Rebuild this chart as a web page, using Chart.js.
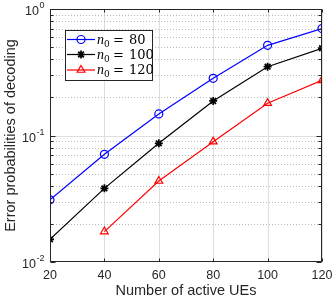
<!DOCTYPE html>
<html>
<head>
<meta charset="utf-8">
<script src="https://cdn.jsdelivr.net/npm/chart.js@4.4.0/dist/chart.umd.min.js"></script>
<style>
  html, body { margin: 0; padding: 0; background: #fff; }
  canvas { display: block; }
</style>
</head>
<body>
<canvas id="errChart" width="336" height="304"></canvas>
<script>
// 데이터
const activeUEs = [20, 40, 60, 80, 100, 120];
const errN80 = [0.031, 0.071, 0.148, 0.283, 0.516, 0.70];
const errN100 = [0.0151, 0.0382, 0.0867, 0.1875, 0.35, 0.489];
const errN120 = [null, 0.0174, 0.0437, 0.0894, 0.18, 0.273];
const seriesLabels = ['80', '100', '120'];
const xTicks = [20, 40, 60, 80, 100, 120];
const yDecades = [-2, -1, 0];

const AXIS = '#262626';
const SANS = '"Liberation Sans", Arial, Helvetica, sans-serif';
const SERIF = '"DejaVu Serif", "Liberation Serif", serif';
const TIMES = '"Liberation Serif", serif';

function toPoints(ys) {
    return activeUEs.map((x, i) => ({ x: x, y: ys[i] })).filter(p => p.y !== null);
}

const seriesStyles = [
    { color: '#0000ff', pointStyle: 'circle', radius: 4, fill: 'rgba(0,0,0,0)', bw: 1.2 },
    { color: '#000000', pointStyle: 'star', radius: 4, fill: '#000000', bw: 1.7 },
    { color: '#ff0000', pointStyle: 'triangle', radius: 4.5, fill: 'rgba(0,0,0,0)', bw: 1.2 }
];
const seriesData = [errN80, errN100, errN120];

// 격자, 눈금, 범례 그리기
const matlabAxes = {
    id: 'matlabAxes',
    beforeDatasetsDraw(chart) {
        const ctx = chart.ctx;
        const a = chart.chartArea;
        const xs = chart.scales.x, ys = chart.scales.y;
        ctx.save();
        ctx.lineWidth = 1;
        // x 주 격자
        ctx.strokeStyle = '#dedede';
        xTicks.forEach(v => {
            const px = Math.round(xs.getPixelForValue(v)) + 0.5;
            ctx.beginPath(); ctx.moveTo(px, a.top); ctx.lineTo(px, a.bottom); ctx.stroke();
        });
        // y 보조 격자 (점선)
        ctx.strokeStyle = '#b8b8b8';
        ctx.setLineDash([1, 2]);
        for (let d = -2; d < 0; d++) {
            for (let k = 2; k <= 9; k++) {
                const py = Math.round(ys.getPixelForValue(k * Math.pow(10, d))) + 0.5;
                ctx.beginPath(); ctx.moveTo(a.left, py); ctx.lineTo(a.right, py); ctx.stroke();
            }
        }
        ctx.setLineDash([]);
        // y 주 격자
        ctx.strokeStyle = '#dedede';
        const py1 = Math.round(ys.getPixelForValue(0.1)) + 0.5;
        ctx.beginPath(); ctx.moveTo(a.left, py1); ctx.lineTo(a.right, py1); ctx.stroke();
        ctx.restore();
    },
    afterDatasetsDraw(chart) {
        const ctx = chart.ctx;
        const a = chart.chartArea;
        const xs = chart.scales.x, ys = chart.scales.y;
        ctx.save();
        // 테두리
        ctx.strokeStyle = AXIS;
        ctx.lineWidth = 1;
        const L = Math.round(a.left) + 0.5, R = Math.round(a.right) - 0.5;
        const T = Math.round(a.top) + 0.5, B = Math.round(a.bottom) - 0.5;
        ctx.strokeRect(L, T, R - L, B - T);
        // 안쪽 눈금
        ctx.beginPath();
        xTicks.forEach(v => {
            const px = Math.round(xs.getPixelForValue(v)) + 0.5;
            ctx.moveTo(px, B); ctx.lineTo(px, B - 3);
            ctx.moveTo(px, T); ctx.lineTo(px, T + 3);
        });
        for (let d = -2; d < 0; d++) {
            for (let k = 1; k <= 9; k++) {
                const py = Math.round(ys.getPixelForValue(k * Math.pow(10, d))) + 0.5;
                const len = k === 1 ? 5 : 3;
                ctx.moveTo(L, py); ctx.lineTo(L + len, py);
                ctx.moveTo(R, py); ctx.lineTo(R - len, py);
            }
        }
        ctx.stroke();

        // 범례
        const lx = 65, ly = 30, lw = 87, lh = 50;
        ctx.fillStyle = '#fff';
        ctx.fillRect(lx, ly, lw, lh);
        ctx.strokeStyle = AXIS;
        ctx.strokeRect(lx + 0.5, ly + 0.5, lw, lh);
        const rowY = [39.5, 54.5, 70];
        seriesStyles.forEach((s, i) => {
            const y = rowY[i];
            ctx.strokeStyle = s.color;
            ctx.lineWidth = 1.2;
            ctx.beginPath(); ctx.moveTo(67, y); ctx.lineTo(95, y); ctx.stroke();
            ctx.fillStyle = s.fill;
            ctx.lineWidth = s.bw;
            Chart.helpers.drawPoint(ctx, { pointStyle: s.pointStyle, radius: s.radius, rotation: 0, borderWidth: s.bw }, 81, y);
            ctx.fillStyle = '#000';
            ctx.textBaseline = 'alphabetic';
            ctx.textAlign = 'left';
            ctx.font = 'italic 14px ' + TIMES;
            ctx.fillText('n', 97, y + 4);
            ctx.font = '9px ' + SERIF;
            ctx.fillText('0', 104, y + 7);
            ctx.font = '13px ' + SERIF;
            ctx.fillText('=', 113, y + 4);
            ctx.fillText(seriesLabels[i], 129, y + 4);
        });
        ctx.restore();
    },
    afterDraw(chart) {
        const ctx = chart.ctx;
        const a = chart.chartArea;
        const xs = chart.scales.x, ys = chart.scales.y;
        ctx.save();
        ctx.fillStyle = AXIS;
        // x 눈금 라벨
        ctx.font = '12.5px ' + SANS;
        ctx.textAlign = 'center';
        ctx.textBaseline = 'middle';
        xTicks.forEach(v => ctx.fillText(String(v), xs.getPixelForValue(v), a.bottom + 14));
        // y 눈금 라벨 (10^n)
        yDecades.forEach(d => {
            const py = ys.getPixelForValue(Math.pow(10, d));
            const sup = String(d);
            ctx.font = '9px ' + SANS;
            const supW = ctx.measureText(sup).width;
            ctx.font = '12.5px ' + SANS;
            const baseW = ctx.measureText('10').width;
            const x0 = 44 - supW - baseW;
            ctx.textAlign = 'left';
            ctx.fillText('10', x0, py + 3);
            ctx.font = '9px ' + SANS;
            ctx.fillText(sup, x0 + baseW + 0.5, py - 3);
        });
        // 축 제목
        ctx.font = '14.5px ' + SANS;
        ctx.textAlign = 'center';
        ctx.fillText('Number of active UEs', (a.left + a.right) / 2, a.bottom + 29);
        ctx.translate(11, (a.top + a.bottom) / 2);
        ctx.rotate(-Math.PI / 2);
        ctx.fillText('Error probabilities of decoding', 0, 0);
        ctx.restore();
    }
};

const ctx = document.getElementById('errChart').getContext('2d');
const errChart = new Chart(ctx, {
    type: 'line',
    data: {
        datasets: seriesData.map((ys, i) => ({
            label: 'n0 = ' + seriesLabels[i],
            data: toPoints(ys),
            borderColor: seriesStyles[i].color,
            backgroundColor: seriesStyles[i].fill,
            borderWidth: 1.2,
            pointStyle: seriesStyles[i].pointStyle,
            pointRadius: seriesStyles[i].radius,
            pointBorderWidth: seriesStyles[i].bw,
            pointBorderColor: seriesStyles[i].color,
            pointBackgroundColor: seriesStyles[i].fill,
            tension: 0,
            fill: false
        }))
    },
    options: {
        responsive: false,
        animation: false,
        layout: { padding: { top: 9, right: 14, left: 0, bottom: 0 } },
        plugins: { legend: { display: false }, tooltip: { enabled: false } },
        scales: {
            x: {
                type: 'linear', min: 20, max: 120,
                ticks: { display: false },
                grid: { display: false },
                border: { display: false },
                afterFit: s => { s.height = 42; }
            },
            y: {
                type: 'logarithmic', min: 0.01, max: 1,
                ticks: { display: false },
                grid: { display: false },
                border: { display: false },
                afterFit: s => { s.width = 50; }
            }
        }
    },
    plugins: [matlabAxes]
});
</script>
</body>
</html>
